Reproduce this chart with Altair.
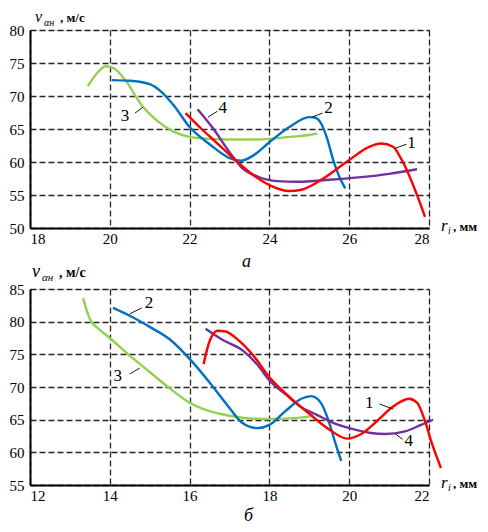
import altair as alt
import pandas as pd

FONT = "Liberation Serif, Times New Roman, serif"
COLORS = {"1": "#ff0000", "2": "#0070c0", "3": "#92d050", "4": "#7030a0"}

# ---------- panel а ----------
A_X_TICKS = [18, 20, 22, 24, 26, 28]
A_Y_TICKS = [50, 55, 60, 65, 70, 75, 80]
A3_X = [19.45, 19.7, 19.9, 20.1, 20.4, 20.8, 21.2, 21.6, 22.0, 22.5, 23.0, 23.5, 24.0, 24.5, 25.0, 25.2]
A3_Y = [71.5, 73.6, 74.5, 74.2, 72.3, 68.6, 66.2, 64.6, 63.8, 63.5, 63.4, 63.4, 63.5, 63.8, 64.1, 64.3]
A2_X = [20.05, 20.5, 21.0, 21.3, 21.6, 22.0, 22.5, 23.0, 23.3, 23.6, 24.0, 24.5, 25.0, 25.15, 25.3, 25.45, 25.6, 25.75, 25.9]
A2_Y = [72.4, 72.3, 71.8, 70.6, 68.6, 65.3, 62.7, 60.6, 60.2, 61.0, 63.0, 65.3, 66.8, 66.7, 65.8, 63.5, 60.3, 57.8, 56.0]
A1_X = [21.9, 22.3, 22.7, 23.2, 23.6, 24.0, 24.5, 24.8, 25.3, 26.0, 26.5, 26.8, 27.1, 27.3, 27.5, 27.7, 27.9]
A1_Y = [67.4, 65.0, 62.8, 60.0, 58.0, 56.5, 55.6, 55.8, 57.3, 60.3, 62.3, 62.8, 62.3, 60.5, 58.0, 55.0, 51.7]
A4_X = [22.2, 22.6, 23.0, 23.3, 23.7, 24.2, 24.7, 25.5, 26.3, 27.0, 27.7]
A4_Y = [68.0, 65.0, 61.5, 59.2, 57.8, 57.1, 57.0, 57.3, 57.7, 58.2, 58.9]
A_LABELS = ["3", "4", "2", "1"]
A_LABEL_X = [20.38, 22.83, 25.48, 27.56]
A_LABEL_Y = [67.0, 68.2, 68.2, 62.9]
A_LEAD_X = [20.63, 22.46, 25.06, 27.16]
A_LEAD_Y = [67.4, 66.8, 66.8, 62.1]
A_LEAD_X2 = [20.83, 22.7, 25.33, 27.44]
A_LEAD_Y2 = [68.3, 67.7, 67.4, 62.7]

# ---------- panel б ----------
B_X_TICKS = [12, 14, 16, 18, 20, 22]
B_Y_TICKS = [55, 60, 65, 70, 75, 80, 85]
B3_X = [13.33, 13.5, 13.7, 14.0, 14.5, 15.0, 15.5, 16.0, 16.5, 17.0, 17.5, 18.0, 18.5, 19.0, 19.1]
B3_Y = [83.6, 80.4, 79.0, 77.5, 74.8, 72.3, 69.8, 67.6, 66.3, 65.6, 65.2, 65.1, 65.2, 65.5, 65.7]
B2_X = [14.08, 14.5, 15.0, 15.5, 16.0, 16.5, 17.0, 17.3, 17.7, 18.0, 18.4, 18.8, 19.05, 19.3, 19.5, 19.65, 19.8]
B2_Y = [82.1, 80.9, 79.2, 77.3, 74.3, 70.7, 66.8, 64.6, 63.7, 64.2, 66.3, 68.2, 68.6, 67.5, 64.5, 61.5, 58.7]
B1_X = [16.35, 16.5, 16.7, 16.9, 17.2, 17.6, 18.0, 18.5, 19.0, 19.5, 19.95, 20.3, 20.7, 21.1, 21.5, 21.7, 21.9, 22.05, 22.3]
B1_Y = [73.5, 77.0, 78.6, 78.5, 77.3, 74.8, 71.5, 68.5, 65.9, 63.5, 62.1, 62.8, 64.8, 67.0, 68.2, 67.6, 64.8, 61.8, 57.6]
B4_X = [16.4, 16.8, 17.35, 17.7, 18.0, 18.4, 18.8, 19.2, 19.6, 20.0, 20.5, 20.9, 21.4, 21.8, 22.1]
B4_Y = [78.9, 77.3, 75.5, 73.4, 71.0, 68.9, 66.9, 65.7, 64.5, 63.7, 63.0, 62.8, 63.2, 64.2, 65.0]
B_LABELS = ["2", "3", "1", "4"]
B_LABEL_X = [14.98, 14.2, 20.5, 21.49]
B_LABEL_Y = [82.9, 71.7, 67.6, 61.7]
B_LEAD_X = [14.5, 14.5, 20.76, 21.16]
B_LEAD_Y = [81.2, 72.0, 67.4, 62.8]
B_LEAD_X2 = [14.8, 14.75, 21.11, 21.34]
B_LEAD_Y2 = [82.1, 72.9, 66.6, 62.0]

ONE = pd.DataFrame({"k": [0]})


def txt(s, x, y, size, italic=False, bold=False, align="left", baseline="alphabetic"):
    kw = dict(text=s, font=FONT, fontSize=size, color="black", align=align, baseline=baseline)
    if italic:
        kw["fontStyle"] = "italic"
    if bold:
        kw["fontWeight"] = "bold"
    return alt.Chart(ONE).mark_text(**kw).encode(x=alt.value(x), y=alt.value(y))


def panel(curves, xdom, ydom, xticks, yticks, w, h, labels, extra):
    xs = alt.Scale(domain=xdom, nice=False, zero=False)
    ys = alt.Scale(domain=ydom, nice=False, zero=False)
    common = dict(grid=True, gridDash=[6, 3], gridColor="#000000", gridWidth=1.3, gridOpacity=0.85,
                  domainColor="black", domainWidth=2, ticks=False, tickSize=0,
                  labelFont=FONT, labelFontSize=15, labelColor="black", title=None)
    xa = alt.Axis(values=xticks, labelPadding=3, **common)
    ya = alt.Axis(values=yticks, labelPadding=6, **common)
    X = lambda f: alt.X(f, scale=xs, axis=xa)
    Y = lambda f: alt.Y(f, scale=ys, axis=ya)
    layers = []
    for name, xv, yv in curves:
        df = pd.DataFrame({"x": xv, "y": yv})
        layers.append(
            alt.Chart(df).mark_line(color=COLORS[name], strokeWidth=2.4, interpolate="monotone").encode(
                x=X("x:Q"), y=Y("y:Q"))
        )
    lab, lx, ly, ax1, ay1, ax2, ay2 = labels
    ldf = pd.DataFrame({"x": ax1, "y": ay1, "x2": ax2, "y2": ay2})
    layers.append(alt.Chart(ldf).mark_rule(color="black", strokeWidth=0.9).encode(
        x=X("x:Q"), y=Y("y:Q"), x2="x2:Q", y2="y2:Q"))
    tdf = pd.DataFrame({"t": lab, "x": lx, "y": ly})
    layers.append(alt.Chart(tdf).mark_text(font=FONT, fontSize=17, color="black").encode(
        x=X("x:Q"), y=Y("y:Q"), text="t:N"))
    layers += [
        txt("r", w + 12, h + 3, 17, italic=True),
        txt("i", w + 19, h + 6, 10, italic=True),
        txt(", мм", w + 24, h + 3, 13, bold=True),
    ]
    layers += extra
    return alt.layer(*layers).properties(width=w, height=h)


top = panel(
    [("3", A3_X, A3_Y), ("2", A2_X, A2_Y), ("4", A4_X, A4_Y), ("1", A1_X, A1_Y)],
    [18, 28], [50, 80], A_X_TICKS, A_Y_TICKS, 399, 198,
    (A_LABELS, A_LABEL_X, A_LABEL_Y, A_LEAD_X, A_LEAD_Y, A_LEAD_X2, A_LEAD_Y2),
    [
        txt("v", 5, -8, 16, italic=True),
        txt("αн", 14, -4, 10, italic=True),
        txt(", м/с", 30, -8, 13, bold=True),
    ],
)

bottom = panel(
    [("3", B3_X, B3_Y), ("2", B2_X, B2_Y), ("4", B4_X, B4_Y), ("1", B1_X, B1_Y)],
    [12, 22], [55, 85], B_X_TICKS, B_Y_TICKS, 399, 196,
    (B_LABELS, B_LABEL_X, B_LABEL_Y, B_LEAD_X, B_LEAD_Y, B_LEAD_X2, B_LEAD_Y2),
    [
        txt("а", 212, -22, 18, italic=True),
        txt("v", 2, -12, 18, italic=True),
        txt("αн", 12, -8, 11, italic=True),
        txt(", м/с", 29, -12, 14, bold=True),
        txt("б", 214, 232, 18, italic=True),
    ],
)

chart = alt.vconcat(top, bottom, spacing=5).properties(
    padding={"left": 0, "top": 0, "right": 0, "bottom": 0}
).configure_view(strokeWidth=0, stroke="transparent").configure(background="white")

chart.save("out.html", embed_options={"renderer": "svg", "actions": False})
